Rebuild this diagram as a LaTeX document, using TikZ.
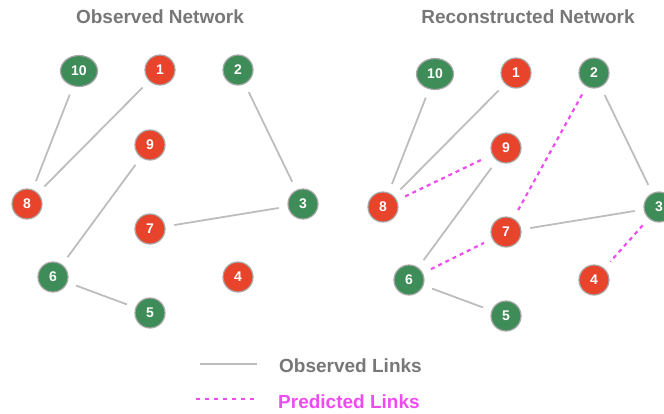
\documentclass[tikz,border=0pt]{standalone}
\usepackage{fontspec}
\setmainfont{Liberation Sans}
\definecolor{ngreen}{HTML}{3E8C57}
\definecolor{nred}{HTML}{E8432B}
\definecolor{nring}{HTML}{A8A8A8}
\definecolor{obs}{HTML}{BDBDBD}
\definecolor{pred}{HTML}{EE4CF0}
\definecolor{ttl}{HTML}{777777}
\tikzset{
  nd/.style={circle,draw=nring,line width=1.2pt,minimum size=30pt,inner sep=0pt,text=white,font=\bfseries\fontsize{14}{14}\selectfont},
  gn/.style={nd,fill=ngreen},
  rn/.style={nd,fill=nred},
  ge/.style={gn,ellipse,minimum width=37pt,minimum height=31pt},
  obsl/.style={draw=obs,line width=1.8pt,shorten <=9pt,shorten >=9pt},
  predl/.style={draw=pred,line width=2.2pt,dash pattern=on 4pt off 4pt,shorten <=9pt,shorten >=9pt},
  ttlf/.style={text=ttl,font=\bfseries\fontsize{19}{19}\selectfont}
}
\usetikzlibrary{shapes.geometric}
\begin{document}
\begin{tikzpicture}[x=1pt,y=-1pt]
\useasboundingbox (0,0) rectangle (664,413);
\node[ttlf] (t1) at (160,17) {Observed Network};
\node[ttlf] (t2) at (528,17) {Reconstructed Network};
% left network
\begin{scope}
\node[ge] (a10) at (79,71) {10};
\node[rn] (a1) at (160,70) {1};
\node[gn] (a2) at (238,70) {2};
\node[rn] (a9) at (150,145) {9};
\node[rn] (a8) at (27,204) {8};
\node[gn] (a3) at (303,204) {3};
\node[rn] (a7) at (150,229) {7};
\node[gn] (a6) at (53,277) {6};
\node[gn] (a5) at (150,313) {5};
\node[rn] (a4) at (238,277) {4};
\draw[obsl] (a10) -- (a8);
\draw[obsl] (a1) -- (a8);
\draw[obsl] (a2) -- (a3);
\draw[obsl] (a9) -- (a6);
\draw[obsl] (a7) -- (a3);
\draw[obsl] (a6) -- (a5);
\end{scope}
% right network
\begin{scope}[shift={(356,3)}]
\node[ge] (b10) at (79,71) {10};
\node[rn] (b1) at (160,70) {1};
\node[gn] (b2) at (238,70) {2};
\node[rn] (b9) at (150,145) {9};
\node[rn] (b8) at (27,204) {8};
\node[gn] (b3) at (303,204) {3};
\node[rn] (b7) at (150,229) {7};
\node[gn] (b6) at (53,277) {6};
\node[gn] (b5) at (150,313) {5};
\node[rn] (b4) at (238,277) {4};
\draw[obsl] (b10) -- (b8);
\draw[obsl] (b1) -- (b8);
\draw[obsl] (b2) -- (b3);
\draw[obsl] (b9) -- (b6);
\draw[obsl] (b7) -- (b3);
\draw[obsl] (b6) -- (b5);
\draw[predl] (b8) -- (b9);
\draw[predl] (b2) -- (b7);
\draw[predl] (b6) -- (b7);
\draw[predl] (b3) -- (b4);
\end{scope}
% legend
\coordinate (l1a) at (200,364);
\coordinate (l1b) at (257,364);
\coordinate (l2a) at (196,399);
\coordinate (l2b) at (258,399);
\draw[draw=obs,line width=1.6pt] (l1a) -- (l1b);
\draw[draw=pred,line width=1.6pt,dash pattern=on 4pt off 5pt] (l2a) -- (l2b);
\node[ttlf,anchor=west,inner sep=0pt] (lg1) at (279,366) {Observed Links};
\node[ttlf,anchor=west,inner sep=0pt,text=pred] (lg2) at (278,402) {Predicted Links};
\end{tikzpicture}
\end{document}
